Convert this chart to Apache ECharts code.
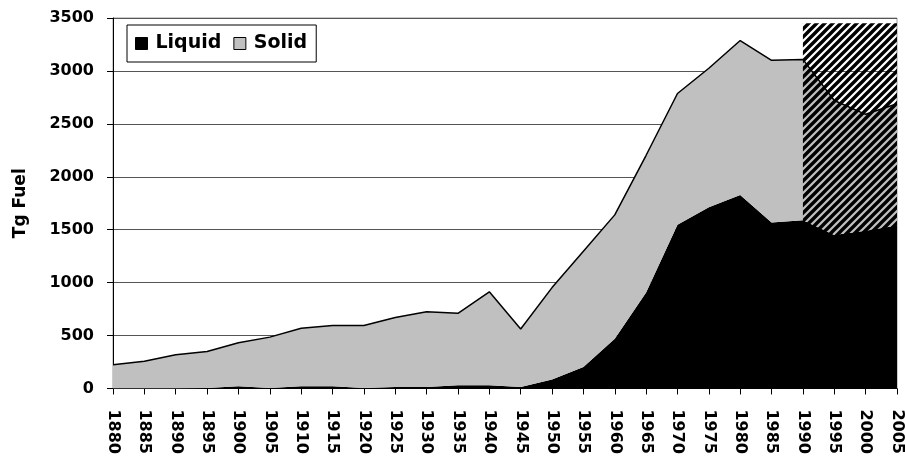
<!DOCTYPE html>
<html>
<head>
<meta charset="utf-8">
<script src="https://cdn.jsdelivr.net/npm/echarts@6/dist/echarts.min.js"></script>
<style>
html,body{margin:0;padding:0;background:#fff;}
#chart{width:905px;height:457px;}
</style>
</head>
<body>
<div id="chart"></div>
<script>
var years = ['1880','1885','1890','1895','1900','1905','1910','1915','1920','1925','1930','1935','1940','1945','1950','1955','1960','1965','1970','1975','1980','1985','1990','1995','2000','2005'];
var liquid = [3,3,3,5,20,5,20,20,5,15,15,30,30,15,84,203,469,906,1547,1712,1828,1569,1590,1450,1490,1540];
var solid = [222,254,316,345,411,480,549,574,589,655,710,680,883,547,869,1094,1171,1297,1240,1313,1459,1531,1519,1270,1100,1150];
var yTicks = {min:0, max:3500, interval:500};
var hatchFrom = '1990', hatchTo = '2005', hatchTop = 3450;

function makeHatch(){
  var c = document.createElement('canvas');
  var s = 8;
  c.width = s; c.height = s;
  var g = c.getContext('2d');
  g.strokeStyle = '#000';
  g.lineWidth = 3.4;
  g.beginPath();
  g.moveTo(-s, s); g.lineTo(s, -s);
  g.moveTo(0, 2*s); g.lineTo(2*s, 0);
  g.moveTo(-1, s+1); g.lineTo(s+1, -1);
  g.stroke();
  return c;
}

var font = 'DejaVu Sans';
var chart = echarts.init(document.getElementById('chart'));
chart.setOption({
  animation: false,
  backgroundColor: '#fff',
  textStyle: {fontFamily: font},
  grid: {left: 113, right: 8, top: 18, bottom: 65, show: true, borderColor: '#999', borderWidth: 1},
  legend: {
    left: 127, top: 25,
    orient: 'horizontal',
    data: [
      {name: 'Liquid', icon: 'rect', itemStyle: {color: '#000', borderColor: '#000', borderWidth: 1}},
      {name: 'Solid', icon: 'rect', itemStyle: {color: '#c0c0c0', borderColor: '#000', borderWidth: 1}}
    ],
    itemWidth: 12, itemHeight: 12, itemGap: 12,
    padding: [9, 9, 9, 8],
    borderColor: '#000', borderWidth: 1,
    textStyle: {fontFamily: font, fontWeight: 'bold', fontSize: 19, color: '#000', padding: [0, 0, 0, 3]}
  },
  xAxis: {
    type: 'category', data: years, boundaryGap: false,
    axisLine: {lineStyle: {color: '#000', width: 1}},
    axisTick: {show: true, length: 6, interval: 0, lineStyle: {color: '#000'}},
    axisLabel: {interval: 0, rotate: -90, margin: 21, fontFamily: font, fontWeight: 'bold', fontSize: 16, color: '#000'},
    splitLine: {show: false}
  },
  yAxis: {
    type: 'value', min: yTicks.min, max: yTicks.max, interval: yTicks.interval,
    name: 'Tg Fuel', nameLocation: 'middle', nameRotate: 90, nameGap: 84,
    nameTextStyle: {fontFamily: font, fontWeight: 'bold', fontSize: 17, color: '#000'},
    axisLine: {show: true, lineStyle: {color: '#000', width: 1}},
    axisTick: {show: true, length: 6, lineStyle: {color: '#000'}},
    axisLabel: {margin: 19, fontFamily: font, fontWeight: 'bold', fontSize: 16, color: '#000', formatter: function(v){ return String(v); }},
    splitLine: {lineStyle: {color: '#555', width: 1}}
  },
  series: [
    {
      name: 'Liquid', type: 'line', stack: 'total', data: liquid,
      showSymbol: false, symbol: 'none',
      lineStyle: {width: 0, color: '#000'},
      itemStyle: {color: '#000'},
      areaStyle: {color: '#000', opacity: 1}
    },
    {
      name: 'Solid', type: 'line', stack: 'total', data: solid,
      showSymbol: false, symbol: 'none',
      lineStyle: {width: 1.5, color: '#000'},
      itemStyle: {color: '#c0c0c0'},
      areaStyle: {color: '#c0c0c0', opacity: 1},
      z: 3,
      markArea: {
        silent: true,
        z: 10,
        itemStyle: {color: {image: makeHatch(), repeat: 'repeat'}, opacity: 1},
        data: [[{xAxis: hatchFrom, yAxis: 0}, {xAxis: hatchTo, yAxis: hatchTop}]]
      }
    }
  ]
});
</script>
</body>
</html>
